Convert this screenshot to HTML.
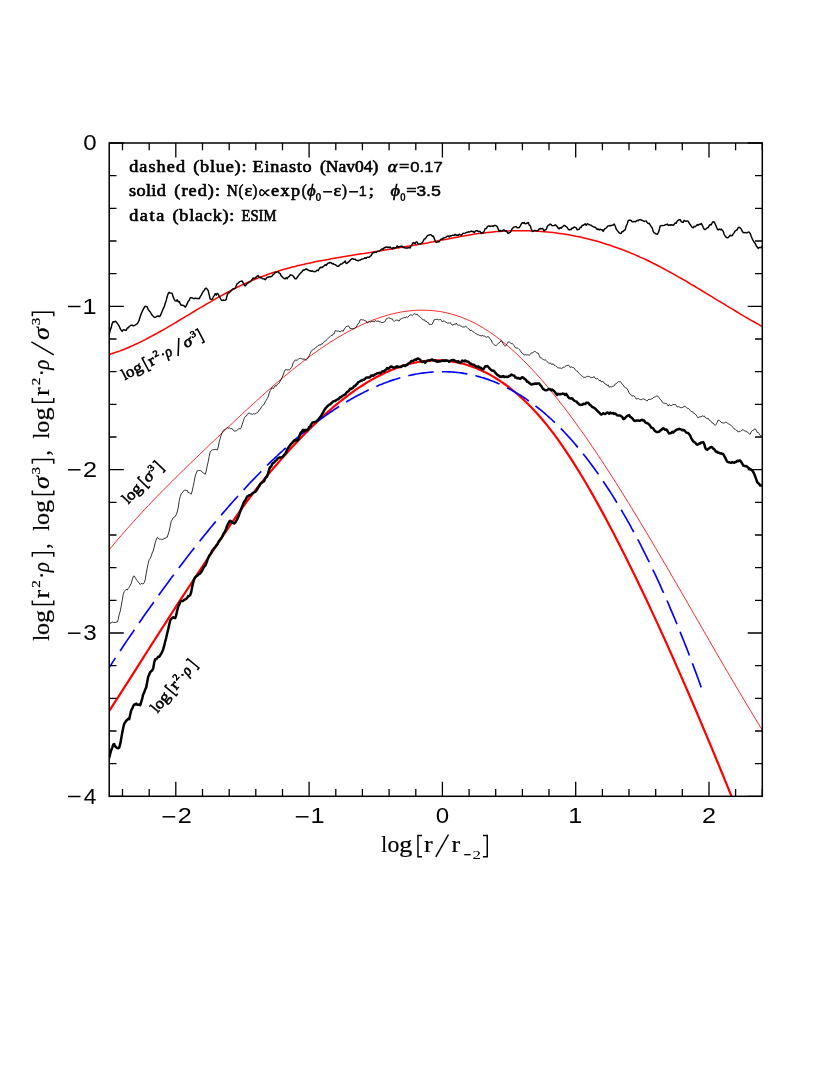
<!DOCTYPE html>
<html><head><meta charset="utf-8"><title>plot</title>
<style>html,body{margin:0;padding:0;background:#fff;}svg{display:block;will-change:transform;}text{font-family:"Liberation Sans",sans-serif;fill:#000;}.se{font-family:"Liberation Serif",serif;}.sb{font-family:"Liberation Serif",serif;font-weight:bold;}</style></head><body>
<svg width="830" height="1075" viewBox="0 0 830 1075">
<rect x="0" y="0" width="830" height="1075" fill="#fff"/>
<defs><clipPath id="cp"><rect x="109.2" y="143" width="653.1" height="653.9"/></clipPath></defs>
<g clip-path="url(#cp)" fill="none" stroke-linejoin="round" stroke-linecap="butt">
<path d="M109.2 549.8L112.2 546.2L115.2 542.6L118.2 539L121.2 535.6L124.2 532.1L127.2 528.7L130.2 525.3L133.2 522L136.2 518.7L139.2 515.4L142.2 512.1L145.2 508.9L148.2 505.7L151.2 502.6L154.2 499.4L157.2 496.3L160.2 493.3L163.2 490.2L166.2 487.2L169.2 484.1L172.2 481.2L175.2 478.2L178.2 475.2L181.2 472.3L184.2 469.3L187.2 466.4L190.2 463.5L193.2 460.6L196.2 457.7L199.2 454.8L202.2 451.9L205.2 449.1L208.2 446.2L211.2 443.3L214.2 440.5L217.2 437.6L220.2 434.8L223.2 431.9L226.2 429L229.2 426.2L232.2 423.4L235.2 420.5L238.2 417.7L241.2 414.9L244.2 412.1L247.2 409.3L250.2 406.6L253.2 403.8L256.2 401.1L259.2 398.4L262.2 395.7L265.2 393L268.2 390.3L271.2 387.7L274.2 385.1L277.2 382.5L280.2 380L283.2 377.4L286.2 374.9L289.2 372.5L292.2 370L295.2 367.6L298.2 365.3L301.2 362.9L304.2 360.6L307.2 358.3L310.2 356.1L313.2 353.9L316.2 351.8L319.2 349.7L322.2 347.6L325.2 345.6L328.2 343.6L331.2 341.7L334.2 339.8L337.2 337.9L340.2 336.2L343.2 334.4L346.2 332.7L349.2 331.1L352.2 329.5L355.2 328L358.2 326.5L361.2 325.1L364.2 323.7L367.2 322.4L370.2 321.2L373.2 320L376.2 318.9L379.2 317.8L382.2 316.8L385.2 315.9L388.2 315L391.2 314.2L394.2 313.5L397.2 312.8L400.2 312.2L403.2 311.7L406.2 311.3L409.2 310.9L412.2 310.6L415.2 310.4L418.2 310.2L421.2 310.2L424.2 310.2L427.2 310.3L430.2 310.4L433.2 310.7L436.2 311L439.2 311.4L442.2 311.9L445.2 312.5L448.2 313.2L451.2 314L454.2 314.8L457.2 315.8L460.2 316.8L463.2 318L466.2 319.2L469.2 320.5L472.2 321.9L475.2 323.4L478.2 325L481.2 326.7L484.2 328.5L487.2 330.4L490.2 332.4L493.2 334.5L496.2 336.7L499.2 339L502.2 341.3L505.2 343.8L508.2 346.3L511.2 348.9L514.2 351.6L517.2 354.4L520.2 357.3L523.2 360.2L526.2 363.2L529.2 366.3L532.2 369.5L535.2 372.7L538.2 376L541.2 379.4L544.2 382.9L547.2 386.4L550.2 390L553.2 393.6L556.2 397.4L559.2 401.1L562.2 405L565.2 408.9L568.2 412.9L571.2 416.9L574.2 421L577.2 425.1L580.2 429.3L583.2 433.5L586.2 437.8L589.2 442.1L592.2 446.5L595.2 450.9L598.2 455.4L601.2 459.9L604.2 464.5L607.2 469.1L610.2 473.8L613.2 478.4L616.2 483.2L619.2 487.9L622.2 492.7L625.2 497.5L628.2 502.4L631.2 507.3L634.2 512.2L637.2 517.1L640.2 522.1L643.2 527.1L646.2 532.1L649.2 537.1L652.2 542.2L655.2 547.3L658.2 552.4L661.2 557.5L664.2 562.6L667.2 567.7L670.2 572.9L673.2 578.1L676.2 583.2L679.2 588.4L682.2 593.6L685.2 598.8L688.2 604L691.2 609.2L694.2 614.4L697.2 619.6L700.2 624.8L703.2 630L706.2 635.2L709.2 640.4L712.2 645.6L715.2 650.8L718.2 656L721.2 661.1L724.2 666.3L727.2 671.4L730.2 676.5L733.2 681.6L736.2 686.7L739.2 691.8L742.2 696.8L745.2 701.9L748.2 706.9L751.2 711.8L754.2 716.8L757.2 721.7L760.2 726.6L762.3 730" stroke="#ff0000" stroke-width="0.85"/>
<path d="M109.2 623L110.2 623.2L111.2 623.1L112.2 621.9L113.2 622.4L114.2 622.4L115.2 622.5L116.2 622.1L117.2 622.1L118.2 619.5L119.2 614.7L120.2 611.4L121.2 606.2L122.2 600.5L123.2 594.6L124.2 591.6L125.2 590.5L126.2 589.3L127.2 590L128.2 588.6L129.2 587.3L130.2 585.5L131.2 583.4L132.2 579.8L133.2 576.6L134.2 575.9L135.2 577.6L136.2 579.2L137.2 580.6L138.2 581.9L139.2 583.1L140.2 584.5L141.2 583.4L142.2 583.7L143.2 583.8L144.2 582.7L145.2 579.8L146.2 573.6L147.2 568.2L148.2 563.4L149.2 559.7L150.2 558.4L151.2 556L152.2 553L153.2 550.8L154.2 547.1L155.2 542.8L156.2 539.9L157.2 537.6L158.2 538.2L159.2 539.1L160.2 539.2L161.2 539.3L162.2 539.4L163.2 539.5L164.2 538.1L165.2 538.7L166.2 537.2L167.2 537.3L168.2 534.1L169.2 531L170.2 526.3L171.2 521.2L172.2 519.8L173.2 517.7L174.2 517.3L175.2 516.6L176.2 514.7L177.2 512L178.2 507.8L179.2 500.8L180.2 496.7L181.2 493.7L182.2 493L183.2 491.3L184.2 490.4L185.2 490.1L186.2 490.4L187.2 490.2L188.2 492.6L189.2 492.5L190.2 493.7L191.2 494.2L192.2 491L193.2 486.4L194.2 481.5L195.2 476.2L196.2 473.3L197.2 470.9L198.2 470.6L199.2 470.5L200.2 470.5L201.2 470.8L202.2 472.2L203.2 472.8L204.2 473.6L205.2 474.3L206.2 471L207.2 466.1L208.2 461.8L209.2 456.4L210.2 452.1L211.2 450.6L212.2 449.7L213.2 449.8L214.2 449.5L215.2 449.4L216.2 449.4L217.2 450.1L218.2 447L219.2 441.9L220.2 438.5L221.2 435L222.2 432.7L223.2 430.5L224.2 429.9L225.2 429.4L226.2 428.6L227.2 427.4L228.2 428.3L229.2 427.7L230.2 428.6L231.2 428.7L232.2 428.7L233.2 430.2L234.2 431L235.2 431L236.2 430.9L237.2 430L238.2 429.2L239.2 428.6L240.2 428.9L241.2 427.5L242.2 424.4L243.2 421.7L244.2 418.3L245.2 416.5L246.2 416.1L247.2 414.7L248.2 413.2L249.2 413.2L250.2 413.7L251.2 413.8L252.2 414.5L253.2 413.6L254.2 414L255.2 413.9L256.2 413.2L257.2 412.8L258.2 411.8L259.2 409.8L260.2 409.4L261.2 407.2L262.2 406.4L263.2 405.2L264.2 404L265.2 401.8L266.2 400.3L267.2 398.5L268.2 396.7L269.2 393.1L270.2 390.8L271.2 389.1L272.2 387.5L273.2 388.8L274.2 387.3L275.2 385.6L276.2 386.3L277.2 384.4L278.2 383.8L279.2 383L280.2 381L281.2 379.4L282.2 377.2L283.2 375L284.2 371.8L285.2 369.9L286.2 369.5L287.2 369.9L288.2 369.6L289.2 369.9L290.2 369.2L291.2 367.8L292.2 366.2L293.2 362.8L294.2 361.1L295.2 360L296.2 360.2L297.2 360.2L298.2 359.3L299.2 358.8L300.2 358.1L301.2 358.6L302.2 359L303.2 359.3L304.2 358.6L305.2 360L306.2 360L307.2 359.2L308.2 357.7L309.2 355.6L310.2 353.4L311.2 351.2L312.2 350.1L313.2 349.4L314.2 349L315.2 348.4L316.2 347.1L317.2 346.6L318.2 345.6L319.2 344.8L320.2 345.5L321.2 343.9L322.2 344.2L323.2 342.5L324.2 341.7L325.2 341.4L326.2 340.2L327.2 339.4L328.2 338.3L329.2 337.2L330.2 336.5L331.2 335.4L332.2 335.6L333.2 333.9L334.2 333.7L335.2 330.6L336.2 330.8L337.2 331.2L338.2 330.9L339.2 331.6L340.2 331.5L341.2 331L342.2 330.8L343.2 331.3L344.2 329.1L345.2 327.8L346.2 326.5L347.2 326.4L348.2 325.9L349.2 326.6L350.2 328.6L351.2 328.6L352.2 328.6L353.2 328.8L354.2 328.9L355.2 327.5L356.2 327.1L357.2 325.4L358.2 323.5L359.2 322.9L360.2 319.8L361.2 319.6L362.2 320L363.2 319.7L364.2 320.4L365.2 320.7L366.2 321L367.2 323L368.2 322.3L369.2 321.7L370.2 322.2L371.2 321.4L372.2 321.7L373.2 321.4L374.2 322L375.2 320.5L376.2 321.3L377.2 321.3L378.2 320.7L379.2 322L380.2 321.4L381.2 322.7L382.2 322.5L383.2 322.5L384.2 321.8L385.2 321.4L386.2 318.9L387.2 318.6L388.2 317.8L389.2 318L390.2 318.2L391.2 319L392.2 318.7L393.2 320.5L394.2 321.5L395.2 320.4L396.2 320.1L397.2 320.1L398.2 320.6L399.2 321L400.2 319.2L401.2 318.9L402.2 318.4L403.2 318.1L404.2 317.4L405.2 317.9L406.2 316.7L407.2 317.5L408.2 317L409.2 315.6L410.2 315L411.2 314.8L412.2 315.7L413.2 314.6L414.2 313.7L415.2 314.2L416.2 314.5L417.2 314.1L418.2 315.7L419.2 316.1L420.2 317.3L421.2 317.8L422.2 319.2L423.2 320L424.2 319.5L425.2 321.3L426.2 321.1L427.2 322.4L428.2 322.4L429.2 324.5L430.2 324.4L431.2 324.6L432.2 324.2L433.2 321.9L434.2 319.8L435.2 319.5L436.2 319.6L437.2 319.2L438.2 319.6L439.2 320.1L440.2 319.1L441.2 320.2L442.2 321.9L443.2 321.3L444.2 320.7L445.2 321.9L446.2 322.3L447.2 323.2L448.2 322.8L449.2 323.4L450.2 322.4L451.2 324L452.2 325L453.2 325.2L454.2 323.9L455.2 324.6L456.2 323.1L457.2 324.7L458.2 325.2L459.2 324.9L460.2 325.8L461.2 326.2L462.2 326.9L463.2 326.9L464.2 327.2L465.2 326.3L466.2 326.7L467.2 327.5L468.2 328.6L469.2 329.1L470.2 330.6L471.2 330.2L472.2 330.9L473.2 331.9L474.2 332.3L475.2 333.3L476.2 333.4L477.2 334.8L478.2 334.5L479.2 335.4L480.2 335.3L481.2 336.2L482.2 335.1L483.2 336L484.2 335.9L485.2 336.5L486.2 337.4L487.2 336.7L488.2 336.7L489.2 337.3L490.2 339.2L491.2 339.9L492.2 342.5L493.2 343.7L494.2 344.8L495.2 345.5L496.2 345.7L497.2 344.5L498.2 343.4L499.2 342.7L500.2 342L501.2 340.5L502.2 341.9L503.2 343.6L504.2 345.3L505.2 346.3L506.2 345.1L507.2 343.6L508.2 341.9L509.2 341.9L510.2 342.7L511.2 343.6L512.2 343.3L513.2 344.5L514.2 345.9L515.2 347.6L516.2 347.9L517.2 348L518.2 348.5L519.2 349.5L520.2 350.3L521.2 352L522.2 353.3L523.2 354L524.2 354.9L525.2 354.6L526.2 355.1L527.2 354.8L528.2 354.9L529.2 355.3L530.2 354.5L531.2 352.9L532.2 353L533.2 352.4L534.2 351.6L535.2 351.5L536.2 352.4L537.2 353.1L538.2 353.1L539.2 355.6L540.2 357.8L541.2 357.8L542.2 358.7L543.2 359.4L544.2 360.1L545.2 359.7L546.2 360.5L547.2 361.8L548.2 362.6L549.2 363.5L550.2 362.8L551.2 364.2L552.2 364.4L553.2 363.7L554.2 365.2L555.2 365.5L556.2 366.5L557.2 366.8L558.2 368L559.2 368.1L560.2 367.9L561.2 368.5L562.2 368.1L563.2 367.2L564.2 367.6L565.2 366.4L566.2 365.7L567.2 365.6L568.2 365.2L569.2 365.7L570.2 367.5L571.2 366.8L572.2 367.4L573.2 367.4L574.2 368L575.2 369.8L576.2 370.7L577.2 371L578.2 372.4L579.2 373.3L580.2 374.5L581.2 375.4L582.2 376.1L583.2 377L584.2 377.3L585.2 377.4L586.2 377L587.2 376.2L588.2 376.7L589.2 376.4L590.2 377.3L591.2 377.4L592.2 377.6L593.2 377.2L594.2 376.5L595.2 378.2L596.2 379.1L597.2 378.2L598.2 379.3L599.2 380.6L600.2 380.1L601.2 381.9L602.2 381.6L603.2 381.5L604.2 383.3L605.2 383.9L606.2 384.1L607.2 385.6L608.2 384.9L609.2 387.2L610.2 386.7L611.2 387.1L612.2 386.5L613.2 386.3L614.2 385.8L615.2 384L616.2 383.8L617.2 382.6L618.2 381.7L619.2 381.8L620.2 381.7L621.2 382.4L622.2 384.3L623.2 385L624.2 386.8L625.2 387.6L626.2 388L627.2 388.8L628.2 390.8L629.2 393L630.2 394.3L631.2 394.7L632.2 396.2L633.2 395.6L634.2 396L635.2 397.3L636.2 399.1L637.2 398.9L638.2 398.3L639.2 399.1L640.2 399.5L641.2 399.8L642.2 399.2L643.2 398.8L644.2 399.3L645.2 399.7L646.2 400.5L647.2 401L648.2 399.6L649.2 399.3L650.2 399.5L651.2 399L652.2 398.7L653.2 398L654.2 397L655.2 397L656.2 396.2L657.2 396L658.2 396.5L659.2 397.9L660.2 399.3L661.2 400L662.2 402.1L663.2 402.9L664.2 403.2L665.2 403.4L666.2 403.5L667.2 404.2L668.2 406.1L669.2 404.5L670.2 405.4L671.2 405.7L672.2 405.1L673.2 404.4L674.2 404.8L675.2 404.2L676.2 405.5L677.2 407L678.2 406.6L679.2 406.9L680.2 407.5L681.2 407.7L682.2 407.5L683.2 407.1L684.2 406.4L685.2 406.3L686.2 407.4L687.2 408.3L688.2 408.2L689.2 409.4L690.2 410.3L691.2 411.5L692.2 411.4L693.2 412.9L694.2 413.1L695.2 414.1L696.2 415.1L697.2 416.6L698.2 418.1L699.2 416.9L700.2 416.7L701.2 416.9L702.2 415.7L703.2 416.6L704.2 415.8L705.2 417.5L706.2 418.2L707.2 418.5L708.2 418.3L709.2 420.2L710.2 420.6L711.2 421.4L712.2 423L713.2 423L714.2 424.7L715.2 425.5L716.2 424.3L717.2 422.3L718.2 420L719.2 420.3L720.2 421.2L721.2 422.5L722.2 422.7L723.2 423.1L724.2 423L725.2 422.2L726.2 422.3L727.2 422.9L728.2 423.8L729.2 424.1L730.2 424.7L731.2 425.5L732.2 426.5L733.2 427.7L734.2 429L735.2 429.3L736.2 430.4L737.2 430.5L738.2 432L739.2 431.5L740.2 431.6L741.2 430.6L742.2 430.2L743.2 429.6L744.2 430.8L745.2 431L746.2 431.5L747.2 432L748.2 432.9L749.2 433.8L750.2 434.2L751.2 431.9L752.2 430.7L753.2 430.2L754.2 429.4L755.2 428.6L756.2 430.2L757.2 432.4L758.2 432.4L759.2 433.9L760.2 435.3L761.2 436.1L762.2 435.9L762.3 436" stroke="#000" stroke-width="0.8"/>
<path d="M109.2 354.6L112.2 353.6L115.2 352.6L118.2 351.6L121.2 350.4L124.2 349.3L127.2 348L130.2 346.7L133.2 345.4L136.2 344L139.2 342.6L142.2 341.1L145.2 339.6L148.2 338L151.2 336.4L154.2 334.8L157.2 333.2L160.2 331.5L163.2 329.8L166.2 328.1L169.2 326.3L172.2 324.6L175.2 322.8L178.2 321L181.2 319.2L184.2 317.4L187.2 315.6L190.2 313.8L193.2 312L196.2 310.2L199.2 308.4L202.2 306.7L205.2 304.9L208.2 303.1L211.2 301.4L214.2 299.6L217.2 297.9L220.2 296.3L223.2 294.6L226.2 293L229.2 291.4L232.2 289.8L235.2 288.3L238.2 286.8L241.2 285.4L244.2 284L247.2 282.6L250.2 281.3L253.2 280L256.2 278.8L259.2 277.6L262.2 276.5L265.2 275.4L268.2 274.3L271.2 273.3L274.2 272.3L277.2 271.4L280.2 270.5L283.2 269.6L286.2 268.7L289.2 267.9L292.2 267.1L295.2 266.4L298.2 265.6L301.2 264.9L304.2 264.2L307.2 263.5L310.2 262.9L313.2 262.3L316.2 261.6L319.2 261L322.2 260.5L325.2 259.9L328.2 259.4L331.2 258.8L334.2 258.3L337.2 257.8L340.2 257.3L343.2 256.8L346.2 256.3L349.2 255.8L352.2 255.3L355.2 254.8L358.2 254.3L361.2 253.8L364.2 253.4L367.2 252.9L370.2 252.4L373.2 251.9L376.2 251.4L379.2 251L382.2 250.5L385.2 250L388.2 249.5L391.2 249L394.2 248.5L397.2 248L400.2 247.6L403.2 247.1L406.2 246.5L409.2 246L412.2 245.5L415.2 245L418.2 244.5L421.2 244L424.2 243.4L427.2 242.9L430.2 242.3L433.2 241.8L436.2 241.2L439.2 240.6L442.2 240.1L445.2 239.5L448.2 238.9L451.2 238.3L454.2 237.7L457.2 237.2L460.2 236.6L463.2 236.1L466.2 235.5L469.2 235L472.2 234.5L475.2 234.1L478.2 233.6L481.2 233.2L484.2 232.9L487.2 232.5L490.2 232.2L493.2 231.9L496.2 231.6L499.2 231.4L502.2 231.2L505.2 231.1L508.2 230.9L511.2 230.8L514.2 230.7L517.2 230.7L520.2 230.7L523.2 230.7L526.2 230.8L529.2 230.8L532.2 230.9L535.2 231.1L538.2 231.3L541.2 231.5L544.2 231.7L547.2 232L550.2 232.3L553.2 232.6L556.2 233L559.2 233.4L562.2 233.8L565.2 234.3L568.2 234.8L571.2 235.3L574.2 235.9L577.2 236.5L580.2 237.1L583.2 237.8L586.2 238.5L589.2 239.2L592.2 240L595.2 240.8L598.2 241.6L601.2 242.5L604.2 243.4L607.2 244.4L610.2 245.3L613.2 246.4L616.2 247.4L619.2 248.5L622.2 249.6L625.2 250.8L628.2 251.9L631.2 253.2L634.2 254.4L637.2 255.7L640.2 257.1L643.2 258.4L646.2 259.8L649.2 261.3L652.2 262.8L655.2 264.3L658.2 265.8L661.2 267.4L664.2 269L667.2 270.6L670.2 272.2L673.2 273.9L676.2 275.6L679.2 277.3L682.2 279L685.2 280.7L688.2 282.5L691.2 284.3L694.2 286L697.2 287.8L700.2 289.6L703.2 291.5L706.2 293.3L709.2 295.1L712.2 296.9L715.2 298.8L718.2 300.6L721.2 302.4L724.2 304.2L727.2 306.1L730.2 307.9L733.2 309.7L736.2 311.5L739.2 313.3L742.2 315.1L745.2 316.8L748.2 318.6L751.2 320.3L754.2 322L757.2 323.7L760.2 325.4L762.3 326.6" stroke="#ff0000" stroke-width="1.55"/>
<path d="M109.2 335L110.2 330L111.2 327.6L112.2 323.5L113.2 321.6L114.2 322L115.2 321.2L116.2 321.8L117.2 323.2L118.2 324.6L119.2 326.1L120.2 328.7L121.2 330.2L122.2 331.3L123.2 329.9L124.2 329.7L125.2 330.3L126.2 330.4L127.2 327.9L128.2 327.9L129.2 326.5L130.2 325.7L131.2 325.2L132.2 325.1L133.2 325.8L134.2 325.6L135.2 325L136.2 324.3L137.2 323.8L138.2 322.2L139.2 320.1L140.2 316.5L141.2 313.8L142.2 311.5L143.2 309.4L144.2 307.6L145.2 306.2L146.2 306.5L147.2 306.9L148.2 309.6L149.2 310.8L150.2 312L151.2 313.7L152.2 315.3L153.2 316.3L154.2 317.2L155.2 317.3L156.2 316.9L157.2 316.1L158.2 315.9L159.2 316.6L160.2 315.9L161.2 313.5L162.2 311.3L163.2 308.6L164.2 307L165.2 303.3L166.2 300.7L167.2 296.5L168.2 293.5L169.2 292.2L170.2 293.1L171.2 293.1L172.2 293.4L173.2 297.1L174.2 299.3L175.2 300.9L176.2 301.1L177.2 299.8L178.2 301.9L179.2 301.4L180.2 303.7L181.2 305.3L182.2 305.3L183.2 305.5L184.2 305.8L185.2 307.2L186.2 305.9L187.2 303.6L188.2 301.2L189.2 300.3L190.2 298L191.2 297.6L192.2 297.8L193.2 298.3L194.2 298.7L195.2 298.1L196.2 298.5L197.2 298.4L198.2 298.4L199.2 298.8L200.2 296.7L201.2 295.1L202.2 293.3L203.2 291.5L204.2 290.5L205.2 288.6L206.2 288.1L207.2 289.3L208.2 290.7L209.2 294.8L210.2 299L211.2 299.4L212.2 299.2L213.2 297.2L214.2 295.5L215.2 293.7L216.2 295.2L217.2 293.3L218.2 294L219.2 296.2L220.2 298L221.2 300L222.2 300.6L223.2 300L224.2 300.4L225.2 300.3L226.2 299.4L227.2 294.9L228.2 293L229.2 292.7L230.2 291.8L231.2 290.7L232.2 289.6L233.2 288.7L234.2 288.7L235.2 288.3L236.2 285.7L237.2 283.6L238.2 283L239.2 282L240.2 281.4L241.2 281.3L242.2 281L243.2 283L244.2 285L245.2 285.9L246.2 284.7L247.2 283.5L248.2 282.8L249.2 282.2L250.2 281.6L251.2 280.9L252.2 279.3L253.2 277.9L254.2 278.6L255.2 277.9L256.2 277.2L257.2 276.1L258.2 275.5L259.2 277.3L260.2 277.7L261.2 277.5L262.2 278.5L263.2 278.8L264.2 278.9L265.2 279.8L266.2 278.5L267.2 277.2L268.2 277.3L269.2 276.7L270.2 276.9L271.2 276.5L272.2 275.9L273.2 274.4L274.2 273.9L275.2 272.5L276.2 272.4L277.2 271.9L278.2 271.6L279.2 273.1L280.2 273.6L281.2 275.9L282.2 276.8L283.2 277.8L284.2 278.5L285.2 278.9L286.2 277.6L287.2 278.7L288.2 277L289.2 276.6L290.2 275L291.2 274.9L292.2 275.4L293.2 276L294.2 277.5L295.2 278.9L296.2 278.8L297.2 277.3L298.2 276L299.2 274.6L300.2 273.6L301.2 272.5L302.2 271.5L303.2 269.9L304.2 270.2L305.2 269.5L306.2 269L307.2 269.5L308.2 270L309.2 270.7L310.2 270.6L311.2 271.3L312.2 270.8L313.2 271.6L314.2 271.5L315.2 271.7L316.2 271L317.2 270L318.2 270.8L319.2 268.7L320.2 267.5L321.2 267.3L322.2 267.5L323.2 266.6L324.2 265.8L325.2 264.7L326.2 265.4L327.2 264L328.2 263L329.2 263L330.2 262.5L331.2 262.7L332.2 263.9L333.2 263.6L334.2 264.3L335.2 264.7L336.2 265.3L337.2 266.3L338.2 266.4L339.2 265.6L340.2 264.5L341.2 264L342.2 263.8L343.2 262.8L344.2 262.1L345.2 261L346.2 263.6L347.2 263.2L348.2 262.3L349.2 261.4L350.2 260.3L351.2 259.3L352.2 258.6L353.2 259L354.2 259.4L355.2 259.2L356.2 260.3L357.2 260.4L358.2 260.8L359.2 260.2L360.2 260.1L361.2 259.4L362.2 259L363.2 258.9L364.2 258.4L365.2 257.7L366.2 258.3L367.2 257.1L368.2 257.1L369.2 257.4L370.2 256.2L371.2 255.6L372.2 253.7L373.2 252.5L374.2 252.5L375.2 252.3L376.2 252.4L377.2 251.4L378.2 251.2L379.2 251.1L380.2 250.7L381.2 249.3L382.2 248.8L383.2 249.4L384.2 247.5L385.2 247.7L386.2 246.9L387.2 247.5L388.2 247L389.2 247.7L390.2 247L391.2 248L392.2 248.9L393.2 247.5L394.2 248.5L395.2 247.6L396.2 247.5L397.2 245.8L398.2 247.4L399.2 246.6L400.2 246.6L401.2 246.1L402.2 246.2L403.2 247.7L404.2 247.3L405.2 248.1L406.2 247.9L407.2 248.2L408.2 247.7L409.2 247.6L410.2 247.9L411.2 245.8L412.2 244.2L413.2 242.6L414.2 243L415.2 243.5L416.2 242L417.2 242L418.2 244.3L419.2 244.1L420.2 243.8L421.2 243.4L422.2 242.7L423.2 241.1L424.2 239L425.2 238.9L426.2 237.3L427.2 235.9L428.2 235.3L429.2 235.1L430.2 234.8L431.2 234.8L432.2 236.2L433.2 235.9L434.2 238.2L435.2 241L436.2 242.4L437.2 242.1L438.2 241.6L439.2 241.8L440.2 240.3L441.2 239L442.2 239.4L443.2 238L444.2 238L445.2 237.4L446.2 237.1L447.2 236.3L448.2 235.9L449.2 236.9L450.2 235.7L451.2 236L452.2 235.2L453.2 235.3L454.2 235.4L455.2 234.3L456.2 235.5L457.2 235L458.2 235.5L459.2 234.2L460.2 234.7L461.2 235.5L462.2 234.3L463.2 233.3L464.2 233.4L465.2 233.1L466.2 232.6L467.2 232.3L468.2 231.8L469.2 232.1L470.2 231.6L471.2 231L472.2 231.7L473.2 231.3L474.2 232.7L475.2 231.4L476.2 230.7L477.2 230.6L478.2 231.4L479.2 231.4L480.2 231.5L481.2 233.6L482.2 232.5L483.2 233L484.2 231.1L485.2 228.6L486.2 228.5L487.2 227L488.2 225.9L489.2 226L490.2 226.5L491.2 226.1L492.2 226L493.2 226.4L494.2 225.5L495.2 225.4L496.2 225.8L497.2 226.6L498.2 228.9L499.2 231.4L500.2 230.2L501.2 231.4L502.2 230.9L503.2 229.9L504.2 230L505.2 231L506.2 230.6L507.2 232.2L508.2 233.5L509.2 232.7L510.2 232.4L511.2 230.9L512.2 228.6L513.2 227.8L514.2 226.9L515.2 226.8L516.2 226.6L517.2 227.7L518.2 227.7L519.2 227.6L520.2 226.1L521.2 224.1L522.2 222.7L523.2 223.2L524.2 222.6L525.2 223.7L526.2 223.5L527.2 223.2L528.2 222.4L529.2 225.1L530.2 225.7L531.2 228.8L532.2 231.5L533.2 231.2L534.2 230.5L535.2 230.4L536.2 230.7L537.2 230.9L538.2 230.3L539.2 228.9L540.2 228.5L541.2 229L542.2 228.4L543.2 229.2L544.2 231.1L545.2 229.7L546.2 229.5L547.2 226.8L548.2 225.2L549.2 224.9L550.2 224.1L551.2 224.7L552.2 225.7L553.2 225.6L554.2 225.6L555.2 224.7L556.2 225.5L557.2 226.8L558.2 228.1L559.2 228.9L560.2 227.5L561.2 228.3L562.2 227L563.2 226.3L564.2 225.3L565.2 225.8L566.2 226.6L567.2 227.5L568.2 229.2L569.2 229.9L570.2 229.4L571.2 229.5L572.2 227.9L573.2 228L574.2 227.1L575.2 227.3L576.2 227.9L577.2 229.8L578.2 229.5L579.2 229.4L580.2 227.3L581.2 227.4L582.2 225.2L583.2 225.4L584.2 224.7L585.2 223.7L586.2 225.3L587.2 223.8L588.2 224.1L589.2 224.6L590.2 225.1L591.2 225.3L592.2 226.1L593.2 226.7L594.2 227.2L595.2 227.3L596.2 228.2L597.2 229.5L598.2 229L599.2 229.9L600.2 229.2L601.2 229.9L602.2 229.7L603.2 231.4L604.2 229.4L605.2 228.7L606.2 228L607.2 226.7L608.2 225.9L609.2 225.8L610.2 225.5L611.2 225.7L612.2 225.2L613.2 225L614.2 224L615.2 226L616.2 229L617.2 230.4L618.2 231.7L619.2 232.8L620.2 233.5L621.2 233.4L622.2 231.4L623.2 231.5L624.2 230.3L625.2 229.8L626.2 226L627.2 224L628.2 220.7L629.2 220.1L630.2 220.3L631.2 220.5L632.2 221.9L633.2 221.7L634.2 221.4L635.2 221.8L636.2 221.2L637.2 220.3L638.2 220.7L639.2 219.7L640.2 219.6L641.2 220L642.2 220.4L643.2 220.8L644.2 221.5L645.2 221.1L646.2 220.9L647.2 222.7L648.2 223.5L649.2 223.3L650.2 225L651.2 226.6L652.2 228L653.2 231.4L654.2 232.9L655.2 233.2L656.2 234.1L657.2 234.2L658.2 232.9L659.2 229.9L660.2 226L661.2 225.6L662.2 225.4L663.2 225.6L664.2 225.4L665.2 224.8L666.2 224.8L667.2 224L668.2 225.4L669.2 224.8L670.2 225.3L671.2 224.7L672.2 225L673.2 225.3L674.2 224.4L675.2 222.9L676.2 223.3L677.2 221L678.2 220.3L679.2 219.7L680.2 219.7L681.2 221.6L682.2 222.2L683.2 222.3L684.2 220.4L685.2 221L686.2 221.2L687.2 220.9L688.2 221.3L689.2 223.3L690.2 224.5L691.2 226.1L692.2 227.4L693.2 227.8L694.2 226.3L695.2 226.7L696.2 225.9L697.2 224.6L698.2 225.3L699.2 224.2L700.2 224.4L701.2 223.4L702.2 225L703.2 227.3L704.2 229.3L705.2 229.6L706.2 228.8L707.2 227.7L708.2 227.8L709.2 225.6L710.2 224.5L711.2 225L712.2 222.7L713.2 221.7L714.2 222L715.2 224L716.2 226.2L717.2 229L718.2 229.9L719.2 229L720.2 229.8L721.2 229.1L722.2 230.2L723.2 231.3L724.2 234.5L725.2 236.2L726.2 237.2L727.2 237.8L728.2 237.5L729.2 236.5L730.2 235.2L731.2 235.8L732.2 235.6L733.2 233.9L734.2 232.6L735.2 231L736.2 230.4L737.2 229.6L738.2 227.6L739.2 227.3L740.2 227.8L741.2 229.2L742.2 231L743.2 232.6L744.2 232.8L745.2 232.4L746.2 232.9L747.2 232.8L748.2 232L749.2 232.1L750.2 233.6L751.2 236.3L752.2 238.6L753.2 240.7L754.2 242.3L755.2 243.4L756.2 245.8L757.2 247L758.2 248.4L759.2 247.5L760.2 247.4L761.2 247.7L762.2 246.1L762.3 247" stroke="#000" stroke-width="1.45"/>
<path d="M109.2 711L112.2 706.4L115.2 701.7L118.2 697.1L121.2 692.4L124.2 687.7L127.2 683L130.2 678.3L133.2 673.6L136.2 668.8L139.2 664.1L142.2 659.4L145.2 654.7L148.2 650L151.2 645.2L154.2 640.5L157.2 635.8L160.2 631.1L163.2 626.5L166.2 621.8L169.2 617.1L172.2 612.5L175.2 607.9L178.2 603.2L181.2 598.6L184.2 594.1L187.2 589.5L190.2 585L193.2 580.4L196.2 575.9L199.2 571.4L202.2 566.9L205.2 562.4L208.2 557.9L211.2 553.4L214.2 549L217.2 544.5L220.2 540L223.2 535.5L226.2 531.1L229.2 526.6L232.2 522.2L235.2 517.9L238.2 513.6L241.2 509.4L244.2 505.2L247.2 501.1L250.2 497.1L253.2 493.1L256.2 489.2L259.2 485.4L262.2 481.7L265.2 478L268.2 474.4L271.2 470.9L274.2 467.3L277.2 463.9L280.2 460.4L283.2 457L286.2 453.7L289.2 450.3L292.2 447.1L295.2 443.8L298.2 440.7L301.2 437.5L304.2 434.4L307.2 431.4L310.2 428.4L313.2 425.5L316.2 422.6L319.2 419.8L322.2 417L325.2 414.3L328.2 411.6L331.2 409L334.2 406.4L337.2 403.9L340.2 401.5L343.2 399.1L346.2 396.8L349.2 394.5L352.2 392.4L355.2 390.2L358.2 388.2L361.2 386.2L364.2 384.3L367.2 382.4L370.2 380.6L373.2 378.9L376.2 377.2L379.2 375.7L382.2 374.2L385.2 372.7L388.2 371.4L391.2 370.1L394.2 368.9L397.2 367.7L400.2 366.7L403.2 365.7L406.2 364.8L409.2 364L412.2 363.3L415.2 362.6L418.2 362L421.2 361.6L424.2 361.2L427.2 360.8L430.2 360.6L433.2 360.4L436.2 360.4L439.2 360.4L442.2 360.5L445.2 360.7L448.2 361L451.2 361.4L454.2 361.9L457.2 362.4L460.2 363.1L463.2 363.8L466.2 364.7L469.2 365.6L472.2 366.7L475.2 367.8L478.2 369L481.2 370.4L484.2 371.8L487.2 373.3L490.2 374.9L493.2 376.6L496.2 378.5L499.2 380.4L502.2 382.4L505.2 384.5L508.2 386.7L511.2 389L514.2 391.5L517.2 394L520.2 396.6L523.2 399.4L526.2 402.2L529.2 405.2L532.2 408.2L535.2 411.4L538.2 414.7L541.2 418.2L544.2 421.8L547.2 425.4L550.2 429.3L553.2 433.2L556.2 437.2L559.2 441.4L562.2 445.7L565.2 450.1L568.2 454.6L571.2 459.1L574.2 463.8L577.2 468.6L580.2 473.5L583.2 478.5L586.2 483.5L589.2 488.7L592.2 493.9L595.2 499.2L598.2 504.6L601.2 510.1L604.2 515.6L607.2 521.2L610.2 526.9L613.2 532.6L616.2 538.4L619.2 544.3L622.2 550.2L625.2 556.1L628.2 562.2L631.2 568.2L634.2 574.3L637.2 580.5L640.2 586.7L643.2 593L646.2 599.3L649.2 605.7L652.2 612.1L655.2 618.6L658.2 625.1L661.2 631.7L664.2 638.3L667.2 644.9L670.2 651.6L673.2 658.3L676.2 665.1L679.2 671.9L682.2 678.7L685.2 685.6L688.2 692.5L691.2 699.5L694.2 706.5L697.2 713.5L700.2 720.6L703.2 727.7L706.2 734.9L709.2 742L712.2 749.2L715.2 756.5L718.2 763.7L721.2 771L724.2 778.3L727.2 785.7L730.2 793.1L733.2 800.5L736.2 807.9L739.2 815.3L740 817.3" stroke="#ff0000" stroke-width="2.2"/>
<path d="M109.2 667.4L110.7 665.2L112.2 662.9L113.7 660.6L115.1 658.4L116.6 656.1L118.1 653.9L119.6 651.7L121.1 649.5L122.6 647.2L124 645L125.5 642.8L127 640.6L128.5 638.4L130 636.2L131.5 634L133 631.9L134.4 629.7L135.9 627.5L137.4 625.4L138.9 623.2L140.4 621.1L141.9 619L143.3 616.8L144.8 614.7L146.3 612.6L147.8 610.5L149.3 608.4L150.8 606.3L152.3 604.2L153.7 602.1L155.2 600L156.7 598L158.2 595.9L159.7 593.8L161.2 591.8L162.6 589.8L164.1 587.7L165.6 585.7L167.1 583.7L168.6 581.7L170.1 579.6L171.5 577.6L173 575.7L174.5 573.7L176 571.7L177.5 569.7L179 567.8L180.5 565.8L181.9 563.9L183.4 561.9L184.9 560L186.4 558L187.9 556.1L189.4 554.2L190.8 552.3L192.3 550.4L193.8 548.5L195.3 546.6L196.8 544.8L198.3 542.9L199.8 541.1L201.2 539.2L202.7 537.4L204.2 535.5L205.7 533.7L207.2 531.9L208.7 530.1L210.1 528.3L211.6 526.5L213.1 524.7L214.6 522.9L216.1 521.1L217.6 519.4L219.1 517.6L220.5 515.9L222 514.1L223.5 512.4L225 510.7L226.5 509L228 507.3L229.4 505.6L230.9 503.9L232.4 502.2L233.9 500.5L235.4 498.9L236.9 497.2L238.4 495.6L239.8 493.9L241.3 492.3L242.8 490.7L244.3 489.1L245.8 487.5L247.3 485.9L248.7 484.3L250.2 482.7L251.7 481.2L253.2 479.6L254.7 478.1L256.2 476.5L257.7 475L259.1 473.5L260.6 472L262.1 470.5L263.6 469L265.1 467.5L266.6 466L268 464.6L269.5 463.1L271 461.7L272.5 460.2L274 458.8L275.5 457.4L277 456L278.4 454.6L279.9 453.2L281.4 451.8L282.9 450.5L284.4 449.1L285.9 447.8L287.3 446.4L288.8 445.1L290.3 443.8L291.8 442.5L293.3 441.2L294.8 439.9L296.2 438.6L297.7 437.4L299.2 436.1L300.7 434.9L302.2 433.6L303.7 432.4L305.2 431.2L306.6 430L308.1 428.8L309.6 427.6L311.1 426.5L312.6 425.3L314.1 424.1L315.5 423L317 421.9L318.5 420.8L320 419.7L321.5 418.6L323 417.5L324.5 416.4L325.9 415.4L327.4 414.3L328.9 413.3L330.4 412.2L331.9 411.2L333.4 410.2L334.8 409.2L336.3 408.3L337.8 407.3L339.3 406.3L340.8 405.4L342.3 404.5L343.8 403.5L345.2 402.6L346.7 401.7L348.2 400.8L349.7 400L351.2 399.1L352.7 398.3L354.1 397.4L355.6 396.6L357.1 395.8L358.6 395L360.1 394.2L361.6 393.4L363.1 392.7L364.5 391.9L366 391.2L367.5 390.4L369 389.7L370.5 389L372 388.3L373.4 387.7L374.9 387L376.4 386.4L377.9 385.7L379.4 385.1L380.9 384.5L382.4 383.9L383.8 383.3L385.3 382.8L386.8 382.2L388.3 381.7L389.8 381.1L391.3 380.6L392.7 380.1L394.2 379.6L395.7 379.2L397.2 378.7L398.7 378.3L400.2 377.8L401.6 377.4L403.1 377L404.6 376.6L406.1 376.2L407.6 375.9L409.1 375.5L410.6 375.2L412 374.9L413.5 374.6L415 374.3L416.5 374L418 373.8L419.5 373.5L420.9 373.3L422.4 373.1L423.9 372.9L425.4 372.7L426.9 372.5L428.4 372.4L429.9 372.2L431.3 372.1L432.8 372L434.3 371.9L435.8 371.8L437.3 371.7L438.8 371.7L440.2 371.7L441.7 371.7L443.2 371.7L444.7 371.7L446.2 371.7L447.7 371.8L449.2 371.8L450.6 371.9L452.1 372L453.6 372.1L455.1 372.2L456.6 372.4L458.1 372.5L459.5 372.7L461 372.9L462.5 373.1L464 373.4L465.5 373.6L467 373.9L468.5 374.2L469.9 374.5L471.4 374.8L472.9 375.1L474.4 375.5L475.9 375.8L477.4 376.2L478.8 376.6L480.3 377L481.8 377.5L483.3 377.9L484.8 378.4L486.3 378.9L487.8 379.4L489.2 379.9L490.7 380.5L492.2 381L493.7 381.6L495.2 382.2L496.7 382.8L498.1 383.5L499.6 384.1L501.1 384.8L502.6 385.5L504.1 386.2L505.6 386.9L507.1 387.7L508.5 388.5L510 389.2L511.5 390.1L513 390.9L514.5 391.7L516 392.6L517.4 393.5L518.9 394.4L520.4 395.3L521.9 396.3L523.4 397.2L524.9 398.2L526.3 399.2L527.8 400.3L529.3 401.3L530.8 402.4L532.3 403.5L533.8 404.6L535.3 405.7L536.7 406.8L538.2 408L539.7 409.2L541.2 410.4L542.7 411.7L544.2 412.9L545.6 414.2L547.1 415.5L548.6 416.8L550.1 418.2L551.6 419.5L553.1 420.9L554.6 422.3L556 423.7L557.5 425.2L559 426.7L560.5 428.2L562 429.7L563.5 431.2L564.9 432.8L566.4 434.4L567.9 436L569.4 437.6L570.9 439.3L572.4 441L573.9 442.7L575.3 444.4L576.8 446.1L578.3 447.9L579.8 449.7L581.3 451.5L582.8 453.4L584.2 455.2L585.7 457.1L587.2 459L588.7 461L590.2 463L591.7 464.9L593.2 467L594.6 469L596.1 471.1L597.6 473.1L599.1 475.3L600.6 477.4L602.1 479.6L603.5 481.7L605 484L606.5 486.2L608 488.5L609.5 490.8L611 493.1L612.5 495.4L613.9 497.8L615.4 500.2L616.9 502.6L618.4 505.1L619.9 507.5L621.4 510L622.8 512.6L624.3 515.1L625.8 517.7L627.3 520.3L628.8 522.9L630.3 525.6L631.7 528.3L633.2 531L634.7 533.8L636.2 536.5L637.7 539.4L639.2 542.2L640.7 545L642.1 547.9L643.6 550.8L645.1 553.8L646.6 556.8L648.1 559.8L649.6 562.8L651 565.9L652.5 569L654 572.1L655.5 575.2L657 578.4L658.5 581.6L660 584.9L661.4 588.1L662.9 591.4L664.4 594.7L665.9 598.1L667.4 601.5L668.9 604.9L670.3 608.4L671.8 611.9L673.3 615.4L674.8 618.9L676.3 622.5L677.8 626.1L679.3 629.7L680.7 633.4L682.2 637.1L683.7 640.8L685.2 644.6L686.7 648.4L688.2 652.3L689.6 656.1L691.1 660L692.6 663.9L694.1 667.9L695.6 671.9L697.1 675.9L698.6 680L700 684.1L701.5 688.2" stroke="#0000ff" stroke-width="1.65" stroke-dasharray="25.6 8.28" stroke-dashoffset="14.2"/>
<path d="M109.2 758L110.2 753.6L111.2 750.2L112.2 747.6L113.2 744.6L114.2 744L115.2 746.5L116.2 747.1L117.2 748.1L118.2 748.3L119.2 747.7L120.2 744.2L121.2 738.6L122.2 733L123.2 727.9L124.2 723.7L125.2 722.2L126.2 720.8L127.2 720L128.2 718.8L129.2 719.2L130.2 714.7L131.2 710.4L132.2 708.7L133.2 706.1L134.2 704.5L135.2 704.6L136.2 703.6L137.2 704.8L138.2 704.7L139.2 704.5L140.2 705.2L141.2 702L142.2 698.7L143.2 694.4L144.2 692.2L145.2 689.5L146.2 687.4L147.2 682L148.2 676.7L149.2 674.4L150.2 672.1L151.2 671.2L152.2 670.3L153.2 668.7L154.2 662.5L155.2 659.2L156.2 659.2L157.2 658.1L158.2 656.8L159.2 656.7L160.2 655.2L161.2 653.7L162.2 651.9L163.2 649.2L164.2 645.7L165.2 641.5L166.2 637.8L167.2 633.2L168.2 629.4L169.2 624.7L170.2 620.6L171.2 618.7L172.2 618.1L173.2 617.2L174.2 617.9L175.2 618.1L176.2 615L177.2 610.5L178.2 606.5L179.2 604.9L180.2 602.2L181.2 600.9L182.2 601L183.2 600.9L184.2 599.9L185.2 599.3L186.2 598.9L187.2 597.9L188.2 596.1L189.2 595.9L190.2 595.1L191.2 592L192.2 586.8L193.2 582.3L194.2 579.1L195.2 577.2L196.2 576.4L197.2 575.8L198.2 574.8L199.2 574.1L200.2 573.4L201.2 572.1L202.2 570.5L203.2 568.3L204.2 566.4L205.2 565.7L206.2 563.5L207.2 560.6L208.2 558L209.2 555.7L210.2 554.4L211.2 552.9L212.2 550.6L213.2 549.6L214.2 547.9L215.2 547.2L216.2 545.5L217.2 544.7L218.2 542.5L219.2 540.7L220.2 539.4L221.2 538.3L222.2 536.7L223.2 534.2L224.2 532.8L225.2 531.1L226.2 528.5L227.2 525.5L228.2 524L229.2 521.7L230.2 520.7L231.2 521.6L232.2 522.3L233.2 522.8L234.2 523.4L235.2 522.6L236.2 521L237.2 519.2L238.2 517.1L239.2 514.3L240.2 511.6L241.2 508.8L242.2 506.6L243.2 504L244.2 501.6L245.2 500.5L246.2 498.5L247.2 496.5L248.2 496.2L249.2 495.2L250.2 495.1L251.2 494.4L252.2 493.5L253.2 492.8L254.2 492.4L255.2 491.9L256.2 490.7L257.2 489.5L258.2 487.4L259.2 486.3L260.2 484L261.2 483.1L262.2 482.4L263.2 481.8L264.2 481.1L265.2 478.4L266.2 477.4L267.2 476L268.2 473.2L269.2 469.1L270.2 467.2L271.2 466.5L272.2 463.9L273.2 463.1L274.2 462.5L275.2 461L276.2 460.5L277.2 459L278.2 458.2L279.2 457.5L280.2 457.6L281.2 457.2L282.2 457.3L283.2 456L284.2 454.9L285.2 453.9L286.2 452.1L287.2 449.3L288.2 448.1L289.2 446.3L290.2 445.2L291.2 443.8L292.2 443.1L293.2 442L294.2 440.5L295.2 440.1L296.2 440.8L297.2 440.5L298.2 439.5L299.2 436.8L300.2 433.5L301.2 432.3L302.2 431.1L303.2 429.9L304.2 431.3L305.2 429.8L306.2 430.2L307.2 430.2L308.2 429.2L309.2 427L310.2 426.5L311.2 424.4L312.2 422.9L313.2 422.3L314.2 422.3L315.2 421.8L316.2 421.6L317.2 420.5L318.2 419.6L319.2 418.2L320.2 417L321.2 415.9L322.2 413.9L323.2 412.4L324.2 410.3L325.2 408.7L326.2 407.6L327.2 406.4L328.2 405.6L329.2 404.6L330.2 404.6L331.2 403.3L332.2 402.5L333.2 401.4L334.2 401.1L335.2 401.1L336.2 400L337.2 399.5L338.2 399.2L339.2 398.3L340.2 397.2L341.2 397L342.2 396.1L343.2 395.4L344.2 395L345.2 394.5L346.2 393L347.2 391.8L348.2 391.3L349.2 390.4L350.2 388.7L351.2 389L352.2 388.1L353.2 387.6L354.2 386L355.2 385.9L356.2 384.5L357.2 383.7L358.2 382.2L359.2 381.8L360.2 381.2L361.2 380.6L362.2 380.4L363.2 379.8L364.2 379.7L365.2 378.7L366.2 377.7L367.2 377.5L368.2 377.4L369.2 377.5L370.2 377.1L371.2 375.4L372.2 375.4L373.2 375.8L374.2 375L375.2 374.2L376.2 374L377.2 373.3L378.2 373.3L379.2 372.8L380.2 373.1L381.2 372.5L382.2 371.4L383.2 371.3L384.2 371.2L385.2 370.2L386.2 369.5L387.2 368L388.2 368.7L389.2 368.1L390.2 367L391.2 366.4L392.2 366.9L393.2 367.5L394.2 367.4L395.2 367.5L396.2 366.7L397.2 366.2L398.2 366.9L399.2 367L400.2 366.7L401.2 367L402.2 365.9L403.2 365.4L404.2 365.7L405.2 366L406.2 365L407.2 365L408.2 363.7L409.2 363.2L410.2 362.4L411.2 361.1L412.2 361.1L413.2 361L414.2 360.1L415.2 359.5L416.2 359.8L417.2 358.7L418.2 358.4L419.2 359.1L420.2 359.7L421.2 361.5L422.2 362.1L423.2 361.7L424.2 361.4L425.2 362.8L426.2 361.6L427.2 360.7L428.2 360.6L429.2 360.6L430.2 360.3L431.2 359.7L432.2 359.4L433.2 360.3L434.2 360.7L435.2 360.2L436.2 361.4L437.2 361.8L438.2 361.4L439.2 361.2L440.2 361.4L441.2 361L442.2 360.4L443.2 361L444.2 360.4L445.2 361L446.2 360.3L447.2 360.7L448.2 360.8L449.2 361.8L450.2 360.9L451.2 360.3L452.2 360.3L453.2 360.1L454.2 360.3L455.2 360.8L456.2 361.3L457.2 362L458.2 361.1L459.2 362.4L460.2 362.8L461.2 361.9L462.2 360.5L463.2 361L464.2 361.4L465.2 360.5L466.2 361.3L467.2 361.6L468.2 361.7L469.2 362.7L470.2 363.7L471.2 363.8L472.2 364.5L473.2 364.7L474.2 365L475.2 365.9L476.2 366.8L477.2 366.9L478.2 366.3L479.2 367.6L480.2 367.4L481.2 368.3L482.2 369.6L483.2 369.3L484.2 367.9L485.2 366.3L486.2 366.4L487.2 366.1L488.2 366.8L489.2 368.1L490.2 369L491.2 370.1L492.2 370.8L493.2 370.4L494.2 371.2L495.2 372.7L496.2 373.7L497.2 374.8L498.2 375.4L499.2 376L500.2 376.8L501.2 376.5L502.2 376.7L503.2 376.1L504.2 376.9L505.2 376.7L506.2 376.7L507.2 377L508.2 376.8L509.2 375.9L510.2 375.8L511.2 374.6L512.2 375L513.2 375.5L514.2 375.5L515.2 377.4L516.2 377.6L517.2 378.2L518.2 377.9L519.2 378.5L520.2 378.9L521.2 378L522.2 377.2L523.2 377.6L524.2 378.6L525.2 379.2L526.2 380.1L527.2 381.8L528.2 381.7L529.2 383.1L530.2 383.6L531.2 384.5L532.2 384.3L533.2 384L534.2 384L535.2 383.4L536.2 383.8L537.2 383.5L538.2 383.5L539.2 383.4L540.2 384.8L541.2 385.9L542.2 387.6L543.2 389.1L544.2 389.5L545.2 390.2L546.2 390.2L547.2 390L548.2 389.4L549.2 389L550.2 389.3L551.2 390.2L552.2 389.6L553.2 390.5L554.2 391.1L555.2 392.6L556.2 393.7L557.2 395L558.2 393.8L559.2 394.2L560.2 394L561.2 394.2L562.2 393.8L563.2 393.6L564.2 394.1L565.2 395L566.2 393.8L567.2 395.4L568.2 397.1L569.2 398L570.2 398.4L571.2 398.2L572.2 398.4L573.2 399.6L574.2 400.6L575.2 401.1L576.2 401.4L577.2 402.6L578.2 403.4L579.2 404.5L580.2 405L581.2 404.8L582.2 404.8L583.2 403.8L584.2 404L585.2 404.1L586.2 402.8L587.2 403.1L588.2 402.8L589.2 404.1L590.2 405.2L591.2 405.7L592.2 407L593.2 407.4L594.2 407.9L595.2 408.6L596.2 409.7L597.2 410.7L598.2 411.8L599.2 412.4L600.2 413.7L601.2 414.5L602.2 414.1L603.2 413.2L604.2 413.7L605.2 414L606.2 413.4L607.2 412.5L608.2 412.9L609.2 413.7L610.2 412.5L611.2 413.2L612.2 413.2L613.2 413.1L614.2 413.9L615.2 413.5L616.2 414.3L617.2 415.3L618.2 415.4L619.2 415.4L620.2 415.5L621.2 416.3L622.2 416.8L623.2 418.9L624.2 418.9L625.2 418L626.2 416.8L627.2 415.9L628.2 415.5L629.2 415L630.2 416.9L631.2 417.4L632.2 418.2L633.2 419.6L634.2 420.7L635.2 421.1L636.2 420.4L637.2 420.5L638.2 420.5L639.2 420.7L640.2 420.7L641.2 420.1L642.2 419.7L643.2 420.5L644.2 420.6L645.2 422.3L646.2 422.9L647.2 423L648.2 423.8L649.2 424.6L650.2 425.8L651.2 427.6L652.2 427.9L653.2 428.4L654.2 430.1L655.2 431.1L656.2 431.8L657.2 432.2L658.2 431.8L659.2 431.7L660.2 430.4L661.2 430L662.2 429L663.2 428.3L664.2 428.9L665.2 429.7L666.2 429.5L667.2 430.5L668.2 432.2L669.2 433.6L670.2 433.3L671.2 433L672.2 431.8L673.2 432.6L674.2 431.5L675.2 430.7L676.2 429.9L677.2 429.5L678.2 429.2L679.2 428.8L680.2 429.3L681.2 429.4L682.2 430.3L683.2 430L684.2 430.2L685.2 431.3L686.2 432.5L687.2 432.9L688.2 433L689.2 434.2L690.2 435.5L691.2 438.2L692.2 439.8L693.2 441.3L694.2 442.1L695.2 442.6L696.2 444L697.2 444.7L698.2 444.3L699.2 443.5L700.2 443.5L701.2 442.5L702.2 442.6L703.2 442L704.2 443.9L705.2 447.8L706.2 449.2L707.2 449.8L708.2 448.8L709.2 448.3L710.2 447.5L711.2 447.1L712.2 447.2L713.2 448.8L714.2 449.1L715.2 450.7L716.2 451.9L717.2 451.7L718.2 452.8L719.2 452.8L720.2 453.4L721.2 453.3L722.2 454.1L723.2 454L724.2 455.9L725.2 457.6L726.2 459.7L727.2 461.7L728.2 462.2L729.2 462.2L730.2 462.6L731.2 462.9L732.2 462L733.2 462.5L734.2 462.8L735.2 462L736.2 461.9L737.2 460.7L738.2 461.2L739.2 460.6L740.2 460.4L741.2 462.1L742.2 463.5L743.2 465.5L744.2 465.8L745.2 466.2L746.2 466L747.2 466.7L748.2 467.8L749.2 468.4L750.2 469.4L751.2 469.6L752.2 470.5L753.2 471.9L754.2 474L755.2 476.5L756.2 479.2L757.2 482.1L758.2 483.3L759.2 484.1L760.2 485.5L761.2 485.4L762.2 485.7L762.3 485.6" stroke="#000" stroke-width="2.5"/>
</g>
<g stroke="#000" stroke-width="1.5" fill="none" stroke-linecap="butt">
<rect x="109.2" y="143" width="653.1" height="653.3"/>
<path d="M122.5 143v7.3M122.5 796.3v-7.3M149.2 143v7.3M149.2 796.3v-7.3M175.8 143v14.6M175.8 796.3v-14.6M202.5 143v7.3M202.5 796.3v-7.3M229.2 143v7.3M229.2 796.3v-7.3M255.8 143v7.3M255.8 796.3v-7.3M282.5 143v7.3M282.5 796.3v-7.3M309.1 143v14.6M309.1 796.3v-14.6M335.8 143v7.3M335.8 796.3v-7.3M362.4 143v7.3M362.4 796.3v-7.3M389.1 143v7.3M389.1 796.3v-7.3M415.8 143v7.3M415.8 796.3v-7.3M442.4 143v14.6M442.4 796.3v-14.6M469.1 143v7.3M469.1 796.3v-7.3M495.7 143v7.3M495.7 796.3v-7.3M522.4 143v7.3M522.4 796.3v-7.3M549 143v7.3M549 796.3v-7.3M575.7 143v14.6M575.7 796.3v-14.6M602.4 143v7.3M602.4 796.3v-7.3M629 143v7.3M629 796.3v-7.3M655.7 143v7.3M655.7 796.3v-7.3M682.3 143v7.3M682.3 796.3v-7.3M709 143v14.6M709 796.3v-14.6M735.6 143v7.3M735.6 796.3v-7.3M762.3 143v7.3M762.3 796.3v-7.3M109.2 796.3h14.6M762.3 796.3h-14.6M109.2 763.6h7.3M762.3 763.6h-7.3M109.2 731h7.3M762.3 731h-7.3M109.2 698.3h7.3M762.3 698.3h-7.3M109.2 665.6h7.3M762.3 665.6h-7.3M109.2 633h14.6M762.3 633h-14.6M109.2 600.3h7.3M762.3 600.3h-7.3M109.2 567.6h7.3M762.3 567.6h-7.3M109.2 535h7.3M762.3 535h-7.3M109.2 502.3h7.3M762.3 502.3h-7.3M109.2 469.6h14.6M762.3 469.6h-14.6M109.2 437h7.3M762.3 437h-7.3M109.2 404.3h7.3M762.3 404.3h-7.3M109.2 371.7h7.3M762.3 371.7h-7.3M109.2 339h7.3M762.3 339h-7.3M109.2 306.3h14.6M762.3 306.3h-14.6M109.2 273.7h7.3M762.3 273.7h-7.3M109.2 241h7.3M762.3 241h-7.3M109.2 208.3h7.3M762.3 208.3h-7.3M109.2 175.7h7.3M762.3 175.7h-7.3M109.2 143h14.6M762.3 143h-14.6" stroke-width="1.3"/>
</g>
<path d="M162.5 816.8H175.2" stroke="#000" stroke-width="1.5"/>
<text  font-size="21.8" transform="translate(177.68 823.30) scale(1.160 1)" >2</text>
<path d="M295.8 816.8H308.5" stroke="#000" stroke-width="1.5"/>
<text  font-size="21.8" transform="translate(310.61 823.30) scale(1.160 1)" >1</text>
<text  font-size="21.8" transform="translate(435.65 823.30) scale(1.105 1)" >0</text>
<text  font-size="21.8" transform="translate(568.28 823.30) scale(1.160 1)" >1</text>
<text  font-size="21.8" transform="translate(701.92 823.30) scale(1.159 1)" >2</text>
<text  font-size="21.8" transform="translate(83.69 803.70) scale(1.045 1)" >4</text>
<path d="M68 796.5H80.5" stroke="#000" stroke-width="1.5"/>
<text  font-size="21.8" transform="translate(83.29 640.37) scale(1.111 1)" >3</text>
<path d="M68 633.2H80.5" stroke="#000" stroke-width="1.5"/>
<text  font-size="21.8" transform="translate(82.94 477.05) scale(1.159 1)" >2</text>
<path d="M68 469.8H80.5" stroke="#000" stroke-width="1.5"/>
<text  font-size="21.8" transform="translate(82.58 313.72) scale(1.160 1)" >1</text>
<path d="M68 306.5H80.5" stroke="#000" stroke-width="1.5"/>
<text  font-size="21.8" transform="translate(83.24 150.40) scale(1.105 1)" >0</text>
<g transform="translate(48.9 640) rotate(-90)">
<text class="se" font-size="22.5" transform="translate(-0.80 0.00) scale(0.930 1)" stroke="#000" stroke-width="0.22">l</text>
<text class="se" font-size="22.5" transform="translate(4.90 0.00) scale(1.067 1)" stroke="#000" stroke-width="0.22">o</text>
<text class="se" font-size="22.5" transform="translate(16.99 0.00) scale(1.158 1)" stroke="#000" stroke-width="0.22">g</text>
<path d="M39.5 -16.55H35.45V4.85H39.5" fill="none" stroke="#000" stroke-width="1.5"/>
<text class="se" font-size="22.5" transform="translate(41.50 0.00) scale(1.160 1)" stroke="#000" stroke-width="0.22">r</text>
<text class="se" font-size="13" transform="translate(52.37 -8.60) scale(1.160 1)" stroke="#000" stroke-width="0.22">2</text>
<text class="se" font-size="22.5" transform="translate(61.32 0.00) scale(0.930 1)" stroke="#000" stroke-width="0.22">·</text>
<text class="se" font-style="italic" font-size="22.5" transform="translate(67.80 0.00) scale(0.930 1)" stroke="#000" stroke-width="0.22">ρ</text>
<path d="M83.3 -16.55H87.35V4.85H83.3" fill="none" stroke="#000" stroke-width="1.5"/>
<text class="se" font-size="22.5" transform="translate(91.35 0.00) scale(0.930 1)" stroke="#000" stroke-width="0.22">,</text>
<text class="se" font-size="22.5" transform="translate(109.20 0.00) scale(0.930 1)" stroke="#000" stroke-width="0.22">l</text>
<text class="se" font-size="22.5" transform="translate(114.90 0.00) scale(1.067 1)" stroke="#000" stroke-width="0.22">o</text>
<text class="se" font-size="22.5" transform="translate(126.99 0.00) scale(1.158 1)" stroke="#000" stroke-width="0.22">g</text>
<path d="M149.5 -16.55H145.45V4.85H149.5" fill="none" stroke="#000" stroke-width="1.5"/>
<text class="se" font-style="italic" font-size="22.5" transform="translate(151.02 0.00) scale(1.149 1)" stroke="#000" stroke-width="0.22">σ</text>
<text class="se" font-size="13" transform="translate(165.57 -8.60) scale(1.160 1)" stroke="#000" stroke-width="0.22">3</text>
<path d="M176.3 -16.55H180.45V4.85H176.3" fill="none" stroke="#000" stroke-width="1.5"/>
<text class="se" font-size="22.5" transform="translate(184.40 0.00) scale(0.930 1)" stroke="#000" stroke-width="0.22">,</text>
<text class="se" font-size="22.5" transform="translate(201.60 0.00) scale(0.930 1)" stroke="#000" stroke-width="0.22">l</text>
<text class="se" font-size="22.5" transform="translate(207.30 0.00) scale(1.067 1)" stroke="#000" stroke-width="0.22">o</text>
<text class="se" font-size="22.5" transform="translate(219.39 0.00) scale(1.158 1)" stroke="#000" stroke-width="0.22">g</text>
<path d="M241.9 -16.55H237.85V4.85H241.9" fill="none" stroke="#000" stroke-width="1.5"/>
<text class="se" font-size="22.5" transform="translate(243.90 0.00) scale(1.160 1)" stroke="#000" stroke-width="0.22">r</text>
<text class="se" font-size="13" transform="translate(254.77 -8.60) scale(1.160 1)" stroke="#000" stroke-width="0.22">2</text>
<text class="se" font-size="22.5" transform="translate(263.72 0.00) scale(0.930 1)" stroke="#000" stroke-width="0.22">·</text>
<text class="se" font-style="italic" font-size="22.5" transform="translate(270.20 0.00) scale(0.930 1)" stroke="#000" stroke-width="0.22">ρ</text>
<path d="M285.2 4.9L298.1 -17.5" fill="none" stroke="#000" stroke-width="1.5"/>
<text class="se" font-style="italic" font-size="22.5" transform="translate(300.02 0.00) scale(1.149 1)" stroke="#000" stroke-width="0.22">σ</text>
<text class="se" font-size="13" transform="translate(314.87 -8.60) scale(1.160 1)" stroke="#000" stroke-width="0.22">3</text>
<path d="M323.8 -16.55H327.85V4.85H323.8" fill="none" stroke="#000" stroke-width="1.5"/>
</g>
<g transform="translate(382.1 852)">
<text class="se" font-size="22.5" transform="translate(-0.75 0.00) scale(0.930 1)" stroke="#000" stroke-width="0.22">l</text>
<text class="se" font-size="22.5" transform="translate(5.31 0.00) scale(1.056 1)" stroke="#000" stroke-width="0.22">o</text>
<text class="se" font-size="22.5" transform="translate(17.18 0.00) scale(1.160 1)" stroke="#000" stroke-width="0.22">g</text>
<path d="M39.9 -16.55H35.85V4.85H39.9" fill="none" stroke="#000" stroke-width="1.5"/>
<text class="se" font-size="22.5" transform="translate(41.80 0.00) scale(1.160 1)" stroke="#000" stroke-width="0.22">r</text>
<path d="M53.7 4.9L66.4 -17.5" fill="none" stroke="#000" stroke-width="1.5"/>
<text class="se" font-size="22.5" transform="translate(69.30 0.00) scale(1.160 1)" stroke="#000" stroke-width="0.22">r</text>
<path d="M100.9 -16.55H105.15V4.85H100.9" fill="none" stroke="#000" stroke-width="1.5"/>
<path d="M82.1 2.7H88.6" stroke="#000" stroke-width="1.3"/>
<text class="se" font-size="13" transform="translate(90.43 6.50) scale(1.300 1)" >2</text>
</g>
<g transform="translate(125.2 379.9) rotate(-27.7)">
<text class="se" stroke="#000" stroke-width="0.6" font-size="15.7" transform="translate(-0.56 0.00) scale(0.930 1)" >l</text>
<text class="se" stroke="#000" stroke-width="0.6" font-size="15.7" transform="translate(3.43 0.00) scale(1.067 1)" >o</text>
<text class="se" stroke="#000" stroke-width="0.6" font-size="15.7" transform="translate(11.89 0.00) scale(1.158 1)" >g</text>
<path d="M27.65 -11.33H25.07V3.14H27.65" fill="none" stroke="#000" stroke-width="1.56"/>
<text class="se" stroke="#000" stroke-width="0.6" font-size="15.7" transform="translate(29.05 0.00) scale(1.160 1)" >r</text>
<text class="se" stroke="#000" stroke-width="0.6" font-size="9.1" transform="translate(36.66 -6.02) scale(1.160 1)" >2</text>
<text class="se" stroke="#000" stroke-width="0.6" font-size="15.7" transform="translate(42.92 0.00) scale(0.930 1)" >·</text>
<text class="se" font-style="italic" stroke="#000" stroke-width="0.6" font-size="15.7" transform="translate(47.46 0.00) scale(0.930 1)" >ρ</text>
<path d="M57.96 3.43L66.99 -12.25" fill="none" stroke="#000" stroke-width="1.56"/>
<text class="se" font-style="italic" stroke="#000" stroke-width="0.6" font-size="15.7" transform="translate(68.34 0.00) scale(1.149 1)" >σ</text>
<text class="se" stroke="#000" stroke-width="0.6" font-size="9.1" transform="translate(78.73 -6.02) scale(1.160 1)" >3</text>
<path d="M84.98 -11.33H87.56V3.14H84.98" fill="none" stroke="#000" stroke-width="1.56"/>
</g>
<g transform="translate(128.6 504) rotate(-46)">
<text class="se" stroke="#000" stroke-width="0.6" font-size="15.7" transform="translate(-0.56 0.00) scale(0.930 1)" >l</text>
<text class="se" stroke="#000" stroke-width="0.6" font-size="15.7" transform="translate(3.43 0.00) scale(1.067 1)" >o</text>
<text class="se" stroke="#000" stroke-width="0.6" font-size="15.7" transform="translate(11.89 0.00) scale(1.158 1)" >g</text>
<path d="M27.65 -11.33H25.07V3.14H27.65" fill="none" stroke="#000" stroke-width="1.56"/>
<text class="se" font-style="italic" stroke="#000" stroke-width="0.6" font-size="15.7" transform="translate(28.72 0.00) scale(1.149 1)" >σ</text>
<text class="se" stroke="#000" stroke-width="0.6" font-size="9.1" transform="translate(38.90 -6.02) scale(1.160 1)" >3</text>
<path d="M46.41 -11.33H49.06V3.14H46.41" fill="none" stroke="#000" stroke-width="1.56"/>
</g>
<g transform="translate(157.8 713) rotate(-50.5)">
<text class="se" stroke="#000" stroke-width="0.6" font-size="15.7" transform="translate(-0.56 0.00) scale(0.930 1)" >l</text>
<text class="se" stroke="#000" stroke-width="0.6" font-size="15.7" transform="translate(3.43 0.00) scale(1.067 1)" >o</text>
<text class="se" stroke="#000" stroke-width="0.6" font-size="15.7" transform="translate(11.89 0.00) scale(1.158 1)" >g</text>
<path d="M27.65 -11.33H25.07V3.14H27.65" fill="none" stroke="#000" stroke-width="1.56"/>
<text class="se" stroke="#000" stroke-width="0.6" font-size="15.7" transform="translate(29.05 0.00) scale(1.160 1)" >r</text>
<text class="se" stroke="#000" stroke-width="0.6" font-size="9.1" transform="translate(36.66 -6.02) scale(1.160 1)" >2</text>
<text class="se" stroke="#000" stroke-width="0.6" font-size="15.7" transform="translate(42.92 0.00) scale(0.930 1)" >·</text>
<text class="se" font-style="italic" stroke="#000" stroke-width="0.6" font-size="15.7" transform="translate(47.46 0.00) scale(0.930 1)" >ρ</text>
<path d="M58.31 -11.33H60.89V3.14H58.31" fill="none" stroke="#000" stroke-width="1.56"/>
</g>
<text class="se" stroke="#000" stroke-width="0.6" font-size="15.7" transform="translate(129.16 172.30) scale(1.160 1)" letter-spacing="0.91" >dashed</text>
<text class="se" stroke="#000" stroke-width="0.6" font-size="15.7" transform="translate(193.13 172.30) scale(1.160 1)" letter-spacing="0.69" >(blue):</text>
<text class="se" stroke="#000" stroke-width="0.6" font-size="15.7" transform="translate(252.50 172.30) scale(1.160 1)" letter-spacing="0.65" >Einasto</text>
<text class="se" stroke="#000" stroke-width="0.6" font-size="15.7" transform="translate(319.96 172.30) scale(1.116 1)" >(Nav04)</text>
<text class="se" font-style="italic" stroke="#000" stroke-width="0.6" font-size="15.7" transform="translate(387.84 172.30) scale(1.160 1)" >α</text>
<text class="se" stroke="#000" stroke-width="0.6" font-size="15.7" transform="translate(399.01 172.30) scale(1.160 1)" >=</text>
<text  font-size="15.4" transform="translate(410.23 172.30) scale(1.083 1)" stroke="#000" stroke-width="0.45">0.17</text>
<text class="se" stroke="#000" stroke-width="0.6" font-size="15.7" transform="translate(129.07 196.40) scale(1.160 1)" letter-spacing="0.27" >solid</text>
<text class="se" stroke="#000" stroke-width="0.6" font-size="15.7" transform="translate(174.33 196.40) scale(1.160 1)" letter-spacing="0.91" >(red):</text>
<text class="se" stroke="#000" stroke-width="0.6" font-size="15.7" transform="translate(226.78 196.40) scale(0.976 1)" >N</text>
<text class="se" stroke="#000" stroke-width="0.6" font-size="15.7" transform="translate(238.60 196.40) scale(0.930 1)" >(</text>
<text class="se" stroke="#000" stroke-width="0.6" font-size="15.7" transform="translate(244.38 196.40) scale(1.160 1)" >ε</text>
<text class="se" stroke="#000" stroke-width="0.6" font-size="15.7" transform="translate(252.55 196.40) scale(0.930 1)" >)</text>
<text class="se" stroke="#000" stroke-width="0.6" font-size="15.7" transform="translate(271.00 196.40) scale(1.160 1)" >e</text>
<text class="se" stroke="#000" stroke-width="0.6" font-size="15.7" transform="translate(280.54 196.40) scale(1.160 1)" >x</text>
<text class="se" stroke="#000" stroke-width="0.6" font-size="15.7" transform="translate(290.97 196.40) scale(1.160 1)" >p</text>
<text class="se" stroke="#000" stroke-width="0.6" font-size="15.7" transform="translate(301.80 196.40) scale(0.930 1)" >(</text>
<path transform="translate(259.8 189.5)" d="M9.6 0.3C7.5 0.3 6.3 1.8 5.2 3.2C4.1 4.7 3.2 6.1 1.9 6.1C0.7 6.1 0 4.7 0 3.2C0 1.7 0.7 0.3 1.9 0.3C3.2 0.3 4.1 1.7 5.2 3.2C6.3 4.6 7.5 6.1 9.6 6.1" fill="none" stroke="#000" stroke-width="1.4"/>
<text class="se" font-style="italic" stroke="#000" stroke-width="0.6" font-size="15.7" transform="translate(306.92 196.40) scale(1.065 1)" >ϕ</text>
<text font-weight="bold" font-size="10.2" transform="translate(315.58 201.20) scale(1.032 1)" >0</text>
<path d="M323.1 191.8H332.1" stroke="#000" stroke-width="1.5"/>
<text class="se" stroke="#000" stroke-width="0.6" font-size="15.7" transform="translate(333.43 196.40) scale(1.160 1)" >ε</text>
<text class="se" stroke="#000" stroke-width="0.6" font-size="15.7" transform="translate(342.12 196.40) scale(0.940 1)" >)</text>
<path d="M349.1 191.8H358.1" stroke="#000" stroke-width="1.5"/>
<text  font-size="15.4" transform="translate(358.78 196.40) scale(0.930 1)" stroke="#000" stroke-width="0.45">1</text>
<text class="se" stroke="#000" stroke-width="0.6" font-size="15.7" transform="translate(368.78 196.40) scale(1.160 1)" >;</text>
<text class="se" font-style="italic" stroke="#000" stroke-width="0.6" font-size="15.7" transform="translate(390.39 196.40) scale(1.160 1)" >ϕ</text>
<text font-weight="bold" font-size="10.2" transform="translate(399.99 201.20) scale(1.011 1)" >0</text>
<text class="se" stroke="#000" stroke-width="0.6" font-size="15.7" transform="translate(406.26 196.40) scale(1.160 1)" >=</text>
<text  font-size="15.4" transform="translate(416.13 196.40) scale(1.159 1)" stroke="#000" stroke-width="0.45">3.5</text>
<text class="se" stroke="#000" stroke-width="0.6" font-size="15.7" transform="translate(129.16 221.00) scale(1.160 1)" letter-spacing="1.36" >data</text>
<text class="se" stroke="#000" stroke-width="0.6" font-size="15.7" transform="translate(172.43 221.00) scale(1.160 1)" letter-spacing="0.66" >(black):</text>
<text class="se" stroke="#000" stroke-width="0.6" font-size="15.7" transform="translate(241.60 221.00) scale(0.930 1)" letter-spacing="-0.02" >ESIM</text>
</svg></body></html>
